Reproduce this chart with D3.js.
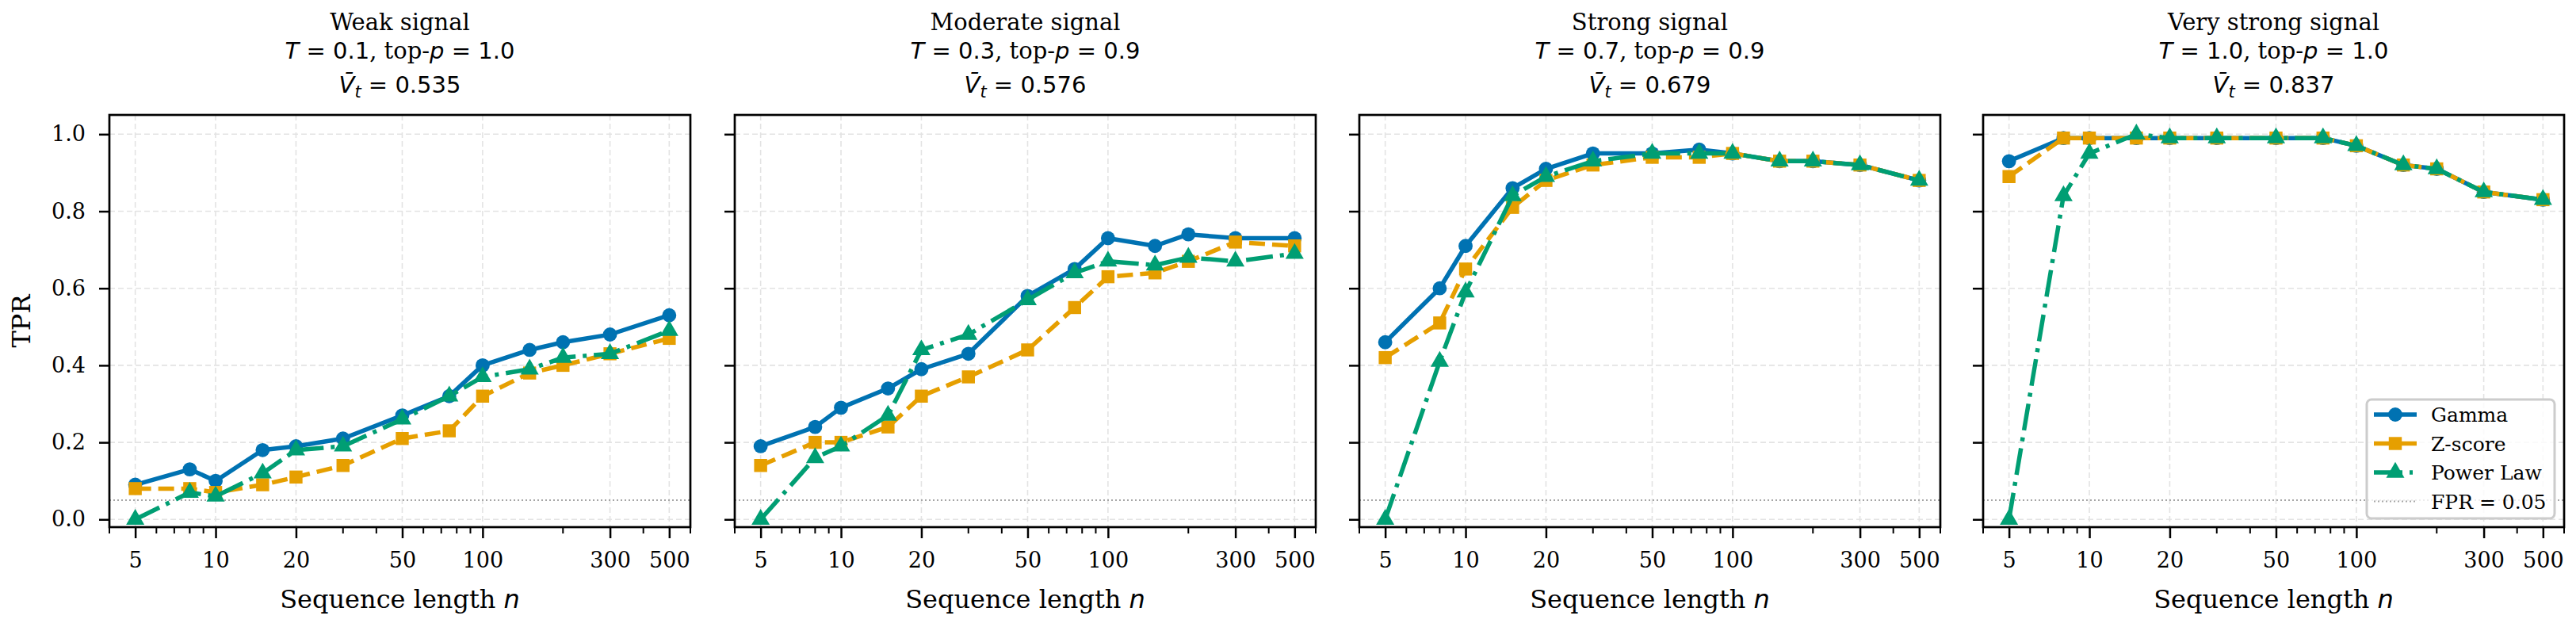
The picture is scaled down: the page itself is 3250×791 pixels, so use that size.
<!DOCTYPE html>
<html>
<head>
<meta charset="utf-8">
<script src="https://cdn.jsdelivr.net/npm/d3@7"></script>
<style>
  body { margin: 0; background: #fff; }
  svg { display: block; }
</style>
</head>
<body>
<script>
// sequence lengths (x values, shared by all panels)
const nValues = [5, 8, 10, 15, 20, 30, 50, 75, 100, 150, 200, 300, 500];

// panel headings
const panelNames = ["Weak signal", "Moderate signal", "Strong signal", "Very strong signal"];
const temps = ["0.1", "0.3", "0.7", "1.0"];
const topPs = ["1.0", "0.9", "0.9", "1.0"];
const vBars = ["0.535", "0.576", "0.679", "0.837"];

// TPR per panel
const gammaWeak = [0.09, 0.13, 0.10, 0.18, 0.19, 0.21, 0.27, 0.32, 0.40, 0.44, 0.46, 0.48, 0.53];
const zscoreWeak = [0.08, 0.08, 0.07, 0.09, 0.11, 0.14, 0.21, 0.23, 0.32, 0.38, 0.40, 0.43, 0.47];
const powerWeak = [0.00, 0.07, 0.06, 0.12, 0.18, 0.19, 0.26, 0.32, 0.37, 0.39, 0.42, 0.43, 0.49];

const gammaModerate = [0.19, 0.24, 0.29, 0.34, 0.39, 0.43, 0.58, 0.65, 0.73, 0.71, 0.74, 0.73, 0.73];
const zscoreModerate = [0.14, 0.20, 0.20, 0.24, 0.32, 0.37, 0.44, 0.55, 0.63, 0.64, 0.67, 0.72, 0.71];
const powerModerate = [0.00, 0.16, 0.19, 0.27, 0.44, 0.48, 0.57, 0.64, 0.67, 0.66, 0.68, 0.67, 0.69];

const gammaStrong = [0.46, 0.60, 0.71, 0.86, 0.91, 0.95, 0.95, 0.96, 0.95, 0.93, 0.93, 0.92, 0.88];
const zscoreStrong = [0.42, 0.51, 0.65, 0.81, 0.88, 0.92, 0.94, 0.94, 0.95, 0.93, 0.93, 0.92, 0.88];
const powerStrong = [0.00, 0.41, 0.59, 0.84, 0.89, 0.93, 0.95, 0.95, 0.95, 0.93, 0.93, 0.92, 0.88];

const gammaVeryStrong = [0.93, 0.99, 0.99, 0.99, 0.99, 0.99, 0.99, 0.99, 0.97, 0.92, 0.91, 0.85, 0.83];
const zscoreVeryStrong = [0.89, 0.99, 0.99, 0.99, 0.99, 0.99, 0.99, 0.99, 0.97, 0.92, 0.91, 0.85, 0.83];
const powerVeryStrong = [0.00, 0.84, 0.95, 1.00, 0.99, 0.99, 0.99, 0.99, 0.97, 0.92, 0.91, 0.85, 0.83];

const fprLevel = 0.05;

const xMajorTicks = [5, 10, 20, 50, 100, 300, 500];
const xMinorTicks = [4, 6, 7, 8, 9, 30, 40, 60, 70, 80, 90, 200, 400, 600];
const yTicks = [0.0, 0.2, 0.4, 0.6, 0.8, 1.0];

const panels = [
  {gamma: gammaWeak, zscore: zscoreWeak, power: powerWeak},
  {gamma: gammaModerate, zscore: zscoreModerate, power: powerModerate},
  {gamma: gammaStrong, zscore: zscoreStrong, power: powerStrong},
  {gamma: gammaVeryStrong, zscore: zscoreVeryStrong, power: powerVeryStrong}
];

const methods = [
  {key: "gamma", label: "Gamma", color: "#0072B2", dash: null, symbol: d3.symbolCircle, size: 250},
  {key: "zscore", label: "Z-score", color: "#E69F00", dash: "20,9", symbol: d3.symbolSquare, size: 270},
  {key: "power", label: "Power Law", color: "#009E73", dash: "34,9,5,9", symbol: d3.symbolTriangle, size: 230}
];

const serif = "'DejaVu Serif', serif";
const sans = "'DejaVu Sans', sans-serif";

// layout
const W = 3250, H = 791;
const panelLefts = [138, 927, 1715, 2502];
const panelW = 733;
const plotTop = 145, plotBottom = 665;
const plotH = plotBottom - plotTop;

const svg = d3.select("body").append("svg")
    .attr("width", W)
    .attr("height", H);

const x = d3.scaleLog().domain([4, 600]).range([0, panelW]);
const y = d3.scaleLinear().domain([-0.02, 1.05]).range([plotH, 0]);

const line = d3.line()
    .x((d, i) => x(nValues[i]))
    .y(d => y(d));

panels.forEach(function (p, pi) {
    const g = svg.append("g")
        .attr("transform", "translate(" + panelLefts[pi] + "," + plotTop + ")");

    // grid
    g.append("g").selectAll("line")
        .data(xMajorTicks).join("line")
        .attr("x1", d => x(d)).attr("x2", d => x(d))
        .attr("y1", 0).attr("y2", plotH)
        .attr("stroke", "#e3e3e3").attr("stroke-width", 1.6)
        .attr("stroke-dasharray", "7,4");
    g.append("g").selectAll("line")
        .data(yTicks).join("line")
        .attr("x1", 0).attr("x2", panelW)
        .attr("y1", d => y(d)).attr("y2", d => y(d))
        .attr("stroke", "#e3e3e3").attr("stroke-width", 1.6)
        .attr("stroke-dasharray", "7,4");

    // FPR reference line
    g.append("line")
        .attr("x1", 0).attr("x2", panelW)
        .attr("y1", y(fprLevel)).attr("y2", y(fprLevel))
        .attr("stroke", "#a6a6a6").attr("stroke-width", 2)
        .attr("stroke-dasharray", "2,3");

    // series
    methods.forEach(function (m) {
        const vals = p[m.key];
        g.append("path")
            .attr("d", line(vals))
            .attr("fill", "none")
            .attr("stroke", m.color)
            .attr("stroke-width", 5.5)
            .attr("stroke-dasharray", m.dash)
            .attr("stroke-linejoin", "round");
        g.append("g").selectAll("path")
            .data(vals).join("path")
            .attr("transform", (d, i) => "translate(" + x(nValues[i]) + "," + y(d) + ")")
            .attr("d", d3.symbol().type(m.symbol).size(m.size))
            .attr("fill", m.color);
    });

    // axes
    const xAxis = g.append("g")
        .attr("transform", "translate(0," + plotH + ")")
        .call(d3.axisBottom(x).tickValues(xMajorTicks).tickFormat(d3.format("d"))
            .tickSize(14).tickSizeOuter(0));
    xAxis.select(".domain").remove();
    xAxis.selectAll("line").attr("stroke-width", 2.5);
    xAxis.selectAll("text")
        .attr("y", 51).attr("dy", null)
        .attr("font-family", serif).attr("font-size", 27).attr("fill", "#000");

    g.append("g")
        .attr("transform", "translate(0," + plotH + ")")
        .selectAll("line")
        .data(xMinorTicks).join("line")
        .attr("x1", d => x(d)).attr("x2", d => x(d))
        .attr("y1", 0).attr("y2", 8)
        .attr("stroke", "#000").attr("stroke-width", 2);

    const yAxis = g.append("g")
        .call(d3.axisLeft(y).tickValues(yTicks).tickFormat(d3.format(".1f"))
            .tickSize(13).tickSizeOuter(0));
    yAxis.select(".domain").remove();
    yAxis.selectAll("line").attr("stroke-width", 2.5);
    yAxis.selectAll("text")
        .attr("x", -30)
        .attr("font-family", serif).attr("font-size", 27).attr("fill", "#000");
    if (pi > 0) yAxis.selectAll("text").remove();

    // frame
    g.append("rect")
        .attr("x", 0).attr("y", 0)
        .attr("width", panelW).attr("height", plotH)
        .attr("fill", "none").attr("stroke", "#000").attr("stroke-width", 2.7);

    // titles
    const cx = panelW / 2;
    g.append("text")
        .attr("x", cx).attr("y", 38 - plotTop)
        .attr("text-anchor", "middle")
        .attr("font-family", serif).attr("font-size", 29)
        .text(panelNames[pi]);

    const t2 = g.append("text")
        .attr("x", cx).attr("y", 74 - plotTop)
        .attr("text-anchor", "middle")
        .attr("font-size", 29);
    t2.append("tspan").attr("font-family", sans).attr("font-style", "italic").text("T");
    t2.append("tspan").attr("font-family", sans).text(" = " + temps[pi]);
    t2.append("tspan").attr("font-family", serif).text(", top-");
    t2.append("tspan").attr("font-family", sans).attr("font-style", "italic").text("p");
    t2.append("tspan").attr("font-family", sans).text(" = " + topPs[pi]);

    const t3 = g.append("text")
        .attr("x", cx).attr("y", 117 - plotTop)
        .attr("text-anchor", "middle")
        .attr("font-family", sans)
        .attr("font-size", 29);
    t3.append("tspan").attr("font-style", "italic").text("V\u0304");
    t3.append("tspan").attr("font-style", "italic").attr("font-size", 21).attr("dy", 6).text("t");
    t3.append("tspan").attr("dy", -6).text(" = " + vBars[pi]);

    // x label
    const xl = g.append("text")
        .attr("x", cx).attr("y", 767 - plotTop)
        .attr("text-anchor", "middle")
        .attr("font-size", 32);
    xl.append("tspan").attr("font-family", serif).text("Sequence length ");
    xl.append("tspan").attr("font-family", sans).attr("font-style", "italic").text("n");
});

// y label
svg.append("text")
    .attr("transform", "translate(38," + (plotTop + plotBottom) / 2 + ") rotate(-90)")
    .attr("text-anchor", "middle")
    .attr("font-family", serif).attr("font-size", 32)
    .text("TPR");

// legend (last panel, lower right)
const legend = svg.append("g").attr("transform", "translate(2986,504)");
legend.append("rect")
    .attr("width", 237).attr("height", 150)
    .attr("rx", 6)
    .attr("fill", "#fff").attr("fill-opacity", 0.8)
    .attr("stroke", "#cccccc").attr("stroke-width", 3);

const legendItems = methods.concat([{label: "FPR = 0.05", color: "#a6a6a6", symbol: null}]);
legendItems.forEach(function (m, i) {
    const ry = 19 + i * 36.5;
    const row = legend.append("g").attr("transform", "translate(0," + ry + ")");
    row.append("line")
        .attr("x1", 9).attr("x2", 63)
        .attr("stroke", m.color)
        .attr("stroke-width", m.symbol ? 5.5 : 2)
        .attr("stroke-dasharray", m.symbol ? (m.key === "power" ? "36,9,4,9" : null) : "2,3");
    if (m.symbol) {
        row.append("path")
            .attr("transform", "translate(36,0)")
            .attr("d", d3.symbol().type(m.symbol).size(m.size))
            .attr("fill", m.color);
    }
    row.append("text")
        .attr("x", 81).attr("y", 9)
        .attr("font-family", serif).attr("font-size", 25)
        .text(m.label);
});
</script>
</body>
</html>
